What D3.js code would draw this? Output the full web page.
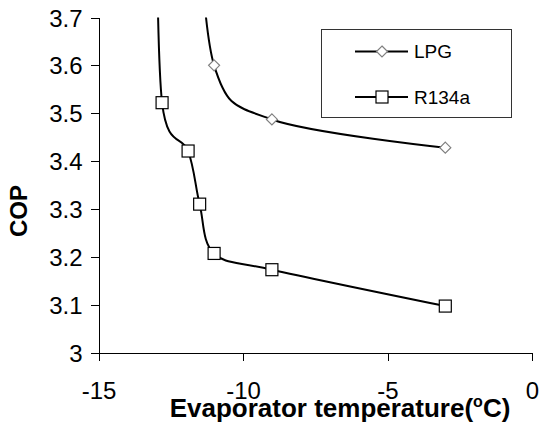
<!DOCTYPE html>
<html>
<head>
<meta charset="utf-8">
<script src="https://cdnjs.cloudflare.com/ajax/libs/d3/7.8.5/d3.min.js"></script>
<style>
  body { margin: 0; background: #fff; }
  svg { display: block; font-family: "Liberation Sans", Arial, sans-serif; }
  .axis path, .axis line { stroke: #000; stroke-width: 1; shape-rendering: crispEdges; }
  .axis text { font-size: 24px; fill: #000; }
</style>
</head>
<body>
<div id="chart"></div>
<script>
// Data (first point of each series lies above 3.7 and is clipped)
const lpgTemp = [-11.6, -11, -9, -3];
const lpgCop = [4.0, 3.6, 3.487, 3.428];
const r134aTemp = [-13, -12.8, -11.9, -11.5, -11, -9, -3];
const r134aCop = [4.0, 3.522, 3.421, 3.31, 3.207, 3.173, 3.097];
const seriesNames = ["LPG", "R134a"];
const xTicks = [-15, -10, -5, 0];
const xTickLabels = ["-15", "-10", "-5", "0"];
const yTicks = [3, 3.1, 3.2, 3.3, 3.4, 3.5, 3.6, 3.7];
const yTickLabels = ["3", "3.1", "3.2", "3.3", "3.4", "3.5", "3.6", "3.7"];

const width = 539, height = 426;
const margin = {top: 17, right: 7, bottom: 74, left: 98.5};

const svg = d3.select("#chart").append("svg")
    .attr("width", width)
    .attr("height", height);

const x = d3.scaleLinear().domain([-15, 0]).range([margin.left, width - margin.right]);
const y = d3.scaleLinear().domain([3, 3.7]).range([height - margin.bottom + 0.5, margin.top + 0.5]);

svg.append("defs").append("clipPath").attr("id", "plot")
  .append("rect")
    .attr("x", margin.left)
    .attr("y", y(3.7))
    .attr("width", x(0) - margin.left + 10)
    .attr("height", y(3) - y(3.7));

// axes
svg.append("g")
    .attr("class", "axis")
    .attr("transform", `translate(${margin.left},0)`)
    .call(d3.axisLeft(y).tickValues(yTicks)
        .tickFormat((d, i) => yTickLabels[i])
        .tickSize(8).tickSizeOuter(0).tickPadding(8))
    .call(g => g.selectAll("text").attr("dy", "0.36em"));

svg.append("g")
    .attr("class", "axis")
    .attr("transform", `translate(0,${y(3)})`)
    .call(d3.axisBottom(x).tickValues(xTicks)
        .tickFormat((d, i) => xTickLabels[i])
        .tickSize(8).tickSizeOuter(0).tickPadding(21));

const series = [
  {name: seriesNames[0], pts: lpgTemp.map((t, i) => [t, lpgCop[i]]), shape: "diamond"},
  {name: seriesNames[1], pts: r134aTemp.map((t, i) => [t, r134aCop[i]]), shape: "square"}
];

const line = d3.line()
    .x(d => x(d[0]))
    .y(d => y(d[1]))
    .curve(d3.curveCatmullRom.alpha(0));

const plot = svg.append("g").attr("clip-path", "url(#plot)");

plot.selectAll(".series")
  .data(series)
  .join("path")
    .attr("class", "series")
    .attr("d", d => line(d.pts))
    .attr("fill", "none")
    .attr("stroke", "#000")
    .attr("stroke-width", 2);

function drawMarker(g, shape) {
  if (shape === "diamond") {
    g.append("path")
        .attr("d", "M0,-5.5L5.5,0L0,5.5L-5.5,0Z")
        .attr("fill", "#fff")
        .attr("stroke", "#808080")
        .attr("stroke-width", 1.2);
  } else {
    g.append("rect")
        .attr("x", -6).attr("y", -6)
        .attr("width", 12).attr("height", 12)
        .attr("fill", "#fff")
        .attr("stroke", "#000")
        .attr("stroke-width", 1.2);
  }
}

series.forEach(s => {
  plot.selectAll(null)
    .data(s.pts.filter(p => p[1] <= 3.7))
    .join("g")
      .attr("transform", p => `translate(${x(p[0])},${y(p[1])})`)
      .each(function() { drawMarker(d3.select(this), s.shape); });
});

// legend
const legend = svg.append("g").attr("transform", "translate(321,29)");
legend.append("rect")
    .attr("x", 0.5).attr("y", 0.5)
    .attr("width", 190).attr("height", 88)
    .attr("fill", "#fff")
    .attr("stroke", "#333")
    .attr("stroke-width", 1);

series.forEach((s, i) => {
  const row = legend.append("g").attr("transform", `translate(0,${22.5 + i * 45.5})`);
  row.append("line")
      .attr("x1", 34).attr("x2", 87)
      .attr("stroke", "#000").attr("stroke-width", 2);
  drawMarker(row.append("g").attr("transform", "translate(61,0)"), s.shape);
  row.append("text")
      .attr("x", 93).attr("dy", "0.36em")
      .attr("font-size", 19)
      .text(s.name);
});

// axis titles
svg.append("text")
    .attr("x", 340).attr("y", 417)
    .attr("text-anchor", "middle")
    .attr("font-size", 26).attr("font-weight", "bold")
    .html('Evaporator temperature(<tspan font-size="16" dy="-10">o</tspan><tspan dy="10">C)</tspan>');

svg.append("text")
    .attr("transform", "translate(27,211) rotate(-90)")
    .attr("text-anchor", "middle")
    .attr("font-size", 24).attr("font-weight", "bold")
    .text("COP");
</script>
</body>
</html>
